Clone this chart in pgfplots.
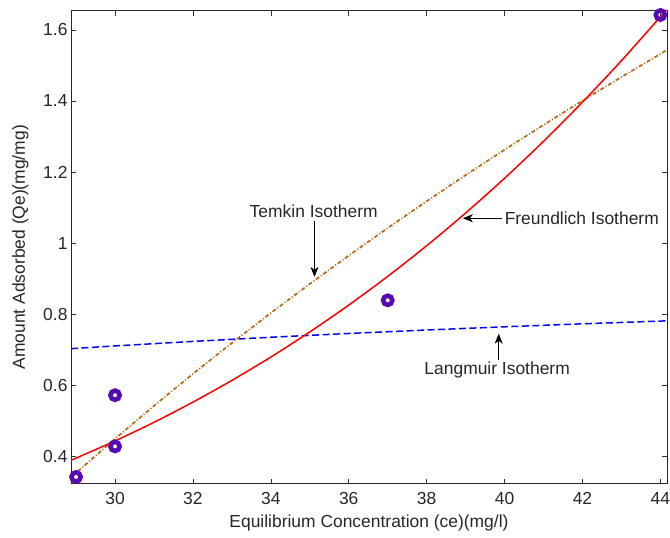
\documentclass[border=0pt]{standalone}
\usepackage{fontspec}
\setmainfont{Liberation Sans}
\usepackage{pgfplots}
\pgfplotsset{compat=1.18}
\usetikzlibrary{arrows.meta}
\definecolor{tembrown}{RGB}{184,105,20}
\definecolor{markpurple}{RGB}{85,10,180}
\begin{document}
\begin{tikzpicture}
\begin{axis}[
  scale only axis,
  width=596bp, height=473bp,
  xmin=28.87, xmax=44.17,
  ymin=0.323, ymax=1.654,
  xtick={30,32,...,44},
  ytick={0.4,0.6,...,1.6},
  tick align=inside,
  major tick length=5bp,
  tick style={black!80, line width=0.6pt},
  axis line style={black!85, line width=0.7pt},
  /pgf/number format/assume math mode=true,
  tick label style={font=\fontsize{17.5}{20}\selectfont, text=black!85},
  xticklabel style={yshift=-5bp},
  label style={font=\fontsize{17.5}{20}\selectfont, text=black!85},
  xlabel={Equilibrium Concentration (ce)(mg/l)},
  ylabel={Amount Adsorbed (Qe)(mg/mg)},
  xlabel style={yshift=-3bp},
  ylabel style={yshift=8bp},
  clip=true,
]
% Langmuir
\addplot[blue, line width=1.5pt, dash pattern=on 7bp off 3.5bp] coordinates {
(28.87,0.703)(30,0.7107)(32,0.7234)(34,0.7351)(36,0.7457)(38,0.7555)(40,0.7645)(42,0.7729)(44,0.7806)(44.17,0.7813)};
% Temkin
\addplot[tembrown, line width=1.7pt, dash pattern=on 4bp off 2bp on 1bp off 2bp] coordinates {
(28.87,0.341)(30,0.4495)(31,0.5422)(32,0.632)(33,0.719)(34,0.8034)(35,0.8853)(36,0.9649)(37,1.0424)(38,1.1178)(39,1.1913)(40,1.2628)(41,1.3326)(42,1.4008)(43,1.4673)(44,1.5323)(44.17,1.544)};
% Freundlich
\addplot[red, line width=1.5pt, smooth] coordinates {
(28.87,0.389)(29,0.395)(30,0.4434)(31,0.4958)(32,0.5526)(33,0.6137)(34,0.6794)(35,0.7501)(36,0.8257)(37,0.9065)(38,0.9928)(39,1.0848)(40,1.1826)(41,1.2865)(42,1.3968)(43,1.5134)(44,1.6369)(44.17,1.658)};
% data
\addplot[only marks, mark=o, mark size=4.6bp, markpurple, line width=4.6bp] coordinates {
(29,0.342)(30,0.572)(30,0.428)(37,0.839)(44,1.642)};
% annotations
\draw[-{Stealth[length=10bp,width=8bp,inset=3bp]}, black, line width=0.7pt] (axis cs:39.94,1.070) -- (axis cs:38.93,1.070);
\node[anchor=west, inner sep=0pt, font=\fontsize{17.5}{20}\selectfont, text=black!85] at (axis cs:40.0,1.071) {Freundlich Isotherm};
\draw[-{Stealth[length=10bp,width=8bp,inset=3bp]}, black, line width=0.7pt] (axis cs:35.12,1.062) -- (axis cs:35.12,0.905);
\node[inner sep=0pt, font=\fontsize{17.5}{20}\selectfont, text=black!85] at (axis cs:35.1,1.089) {Temkin Isotherm};
\draw[-{Stealth[length=10bp,width=8bp,inset=3bp]}, black, line width=0.7pt] (axis cs:39.85,0.672) -- (axis cs:39.85,0.745);
\node[inner sep=0pt, font=\fontsize{17.5}{20}\selectfont, text=black!85] at (axis cs:39.81,0.644) {Langmuir Isotherm};
\end{axis}
\pgfresetboundingbox
\path ([xshift=-71bp,yshift=-54bp]current axis.south west) rectangle ([xshift=3bp,yshift=10.7bp]current axis.north east);
\end{tikzpicture}
\end{document}
